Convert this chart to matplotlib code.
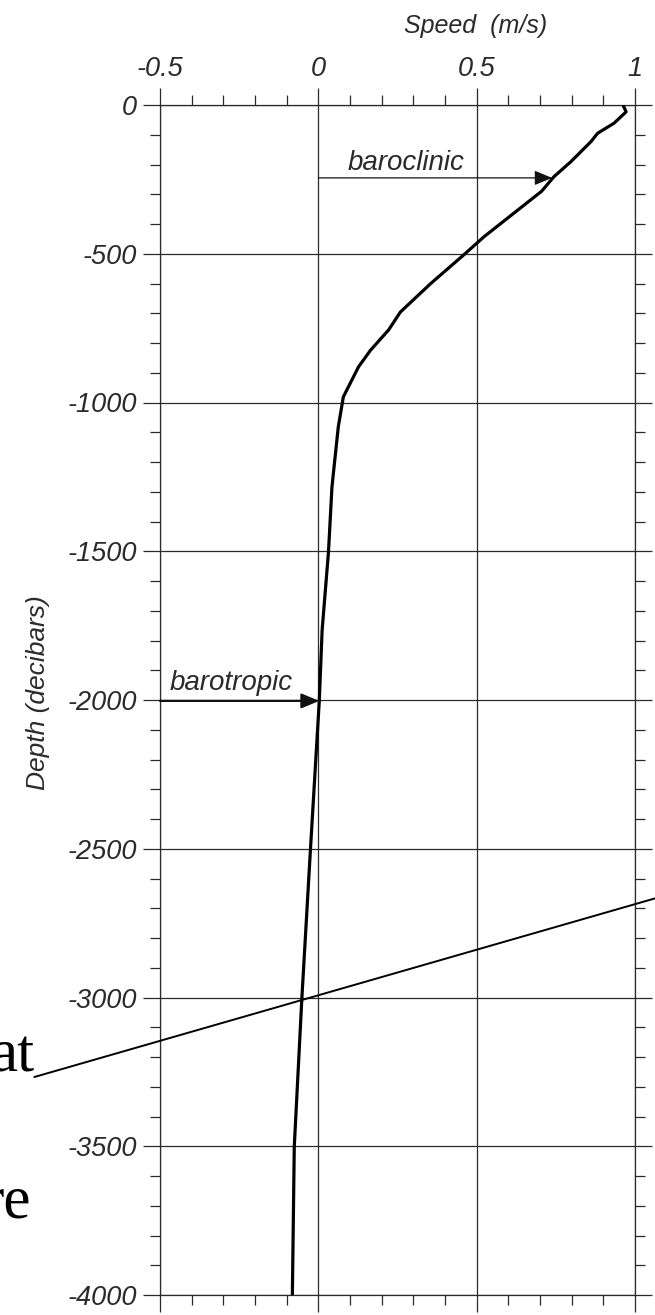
import matplotlib.pyplot as plt
from matplotlib.ticker import MultipleLocator, FixedLocator

# speed profile (m/s vs decibars)
depth = [0, -23, -61, -95, -123, -191, -241, -290, -443, -504, -600, -696, -756,
         -824, -880, -981, -1082, -1284, -1503, -1765, -2003, -2504, -3002, -3502, -4000]
speed = [0.962, 0.972, 0.934, 0.882, 0.861, 0.797, 0.744, 0.705, 0.523, 0.459, 0.355, 0.259, 0.222,
         0.165, 0.127, 0.079, 0.063, 0.043, 0.032, 0.012, 0.003, -0.025, -0.052, -0.076, -0.082]

xticks = [-0.5, 0, 0.5, 1]
xticklabels = ["-0.5", "0", "0.5", "1"]
yticks = [0, -500, -1000, -1500, -2000, -2500, -3000, -3500, -4000]
yticklabels = ["0", "-500", "-1000", "-1500", "-2000", "-2500", "-3000", "-3500", "-4000"]

# annotations: (label, text pos, arrow start, arrow end)
baroclinic = ("baroclinic", (0.278, -218), (0.0, -245), (0.738, -245))
barotropic = ("barotropic", (-0.275, -1966), (-0.5, -2003), (0.003, -2003))

# stray slide line and words from the original page
slide_line_x = [-0.896, 1.066]
slide_line_y = [-3267, -2666]
slide_words = ["at", "re"]

ink = "#2a2a2a"
sans = "Liberation Sans"

fig = plt.figure(figsize=(6.55, 13.15), dpi=100)
ax = fig.add_axes([160 / 655, 1 - 1295 / 1315, 475 / 655, 1190 / 1315])

ax.plot(speed, depth, color="black", lw=2.3, solid_joinstyle="round", zorder=4)

ax.set_xlim(-0.5, 1)
ax.set_ylim(-4000, 0)

ax.xaxis.set_major_locator(FixedLocator(xticks))
ax.set_xticklabels(xticklabels)
ax.xaxis.set_minor_locator(MultipleLocator(0.1))
ax.yaxis.set_major_locator(FixedLocator(yticks))
ax.set_yticklabels(yticklabels)
ax.yaxis.set_minor_locator(MultipleLocator(100))

ax.tick_params(which="both", direction="out", top=True, right=True, bottom=True, left=True,
               labeltop=True, labelbottom=False, labelleft=True, labelright=False,
               color=ink, width=0.9)
ax.tick_params(which="major", length=12.5, pad=4)
ax.tick_params(which="minor", length=7)
for lab in ax.get_xticklabels() + ax.get_yticklabels():
    lab.set_fontstyle("italic")
    lab.set_fontfamily(sans)
    lab.set_fontsize(19.5)
    lab.set_color(ink)

ax.grid(True, which="major", color=ink, lw=0.9)
for s in ax.spines.values():
    s.set_color(ink)
    s.set_linewidth(0.9)

fig.text(0.5 * 316 / 655 + 318 / 655, 1 - 26 / 1315, "Speed  (m/s)", ha="center", va="center",
         fontsize=18, fontstyle="italic", family=sans, color=ink)
fig.text(38 / 655, 1 - 693 / 1315, "Depth (decibars)", rotation=90, ha="center", va="center",
         fontsize=19, fontstyle="italic", family=sans, color=ink)

for (label, tpos, start, end), lw in [(baroclinic, 0.9), (barotropic, 1.6)]:
    ax.text(tpos[0], tpos[1], label, ha="center", va="baseline", fontsize=20,
            fontstyle="italic", family=sans, color=ink, zorder=5)
    ax.annotate("", xy=end, xytext=start,
                arrowprops=dict(arrowstyle="-|>,head_length=0.6,head_width=0.25",
                                color="#111111", lw=lw, shrinkA=0, shrinkB=0,
                                mutation_scale=18), zorder=5)

ax.plot(slide_line_x, slide_line_y, color="black", lw=1.4, clip_on=False, zorder=6)
fig.text(35 / 655, 1 - 1072 / 1315, slide_words[0], ha="right", va="baseline",
         fontsize=44, family="Liberation Serif", color="black")
fig.text(31 / 655, 1 - 1218 / 1315, slide_words[1], ha="right", va="baseline",
         fontsize=44, family="Liberation Serif", color="black")

fig.savefig("out.png", dpi=100)
